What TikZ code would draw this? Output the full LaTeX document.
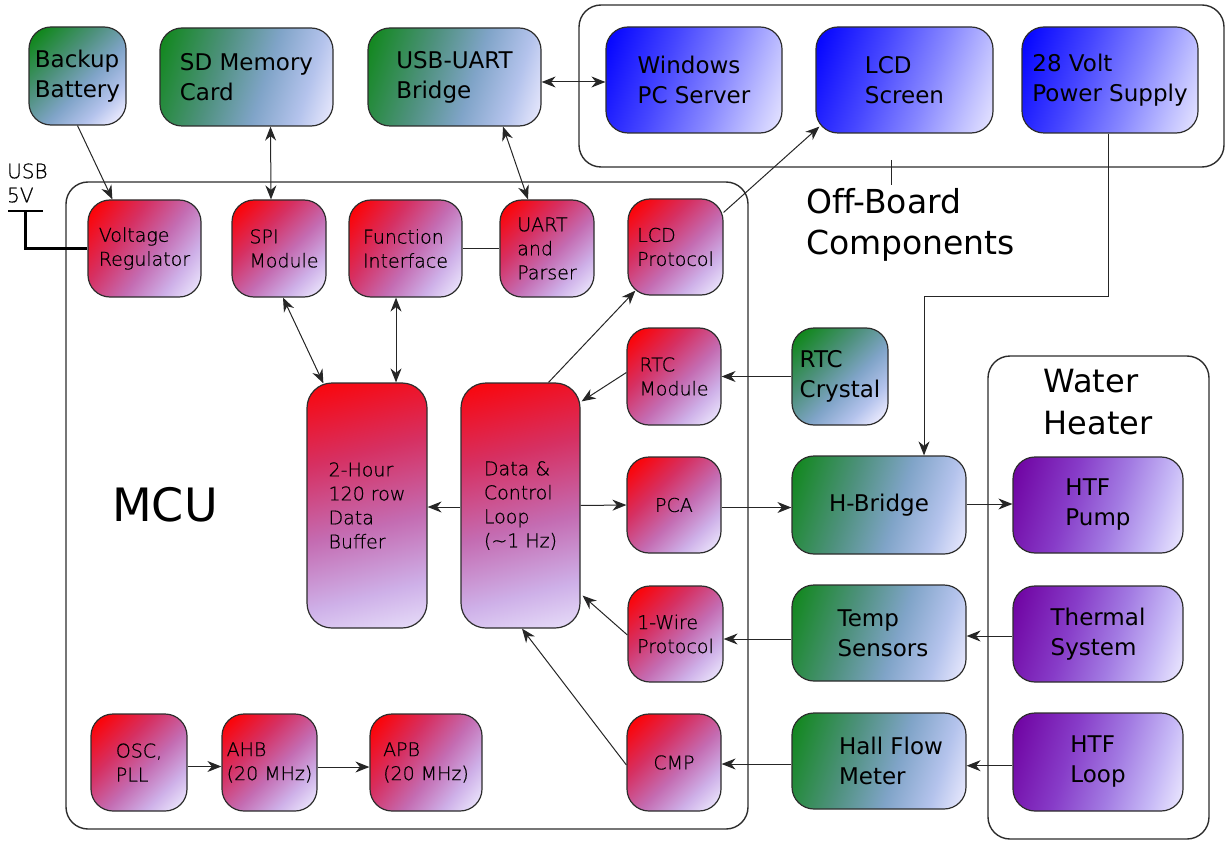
\documentclass[tikz,border=0pt]{standalone}
\usepackage{fontspec}
\setmainfont{DejaVu Sans}[Ligatures=NoCommon]
\newfontfamily\thinfont{DejaVu Sans ExtraLight}[FakeBold=0.6]
\usetikzlibrary{arrows.meta,calc}

% colour stops of the block fills
\definecolor{lavW}{RGB}{240,238,255}
\definecolor{rA}{RGB}{255,0,0}
\definecolor{rB}{RGB}{214,48,98}
\definecolor{rC}{RGB}{196,108,178}
\definecolor{rD}{RGB}{206,176,232}
\definecolor{gA}{RGB}{15,135,25}
\definecolor{gB}{RGB}{78,145,125}
\definecolor{gC}{RGB}{128,164,200}
\definecolor{gD}{RGB}{180,195,236}
\definecolor{bA}{RGB}{0,0,255}
\definecolor{bB}{RGB}{70,70,255}
\definecolor{bC}{RGB}{135,135,255}
\definecolor{bD}{RGB}{192,192,255}
\definecolor{pA}{RGB}{110,0,160}
\definecolor{pB}{RGB}{135,60,200}
\definecolor{pC}{RGB}{162,122,226}
\definecolor{pD}{RGB}{198,184,246}
\definecolor{edge}{RGB}{45,45,45}

\pgfdeclarehorizontalshading{redgrad}{100bp}{color(0bp)=(rA); color(18bp)=(rA); color(38bp)=(rB); color(55bp)=(rC); color(70bp)=(rD); color(84bp)=(lavW); color(100bp)=(lavW)}
\pgfdeclarehorizontalshading{greengrad}{100bp}{color(0bp)=(gA); color(19bp)=(gA); color(40bp)=(gB); color(56bp)=(gC); color(70bp)=(gD); color(82bp)=(lavW); color(100bp)=(lavW)}
\pgfdeclarehorizontalshading{bluegrad}{100bp}{color(0bp)=(bA); color(18bp)=(bA); color(40bp)=(bB); color(58bp)=(bC); color(72bp)=(bD); color(84bp)=(lavW); color(100bp)=(lavW)}
\pgfdeclarehorizontalshading{purplegrad}{100bp}{color(0bp)=(pA); color(19bp)=(pA); color(40bp)=(pB); color(56bp)=(pC); color(70bp)=(pD); color(82bp)=(lavW); color(100bp)=(lavW)}

\tikzset{
  block/.style={draw=edge, line width=1.2pt, rounded corners=22pt, align=left,
    inner sep=0pt, text=black, shade},
  redbox/.style={block, shading=redgrad, shading angle=-45,
    font=\thinfont\fontsize{19}{24}\selectfont},
  greenbox/.style={block, shading=greengrad, shading angle=-18,
    font=\fontsize{23}{30}\selectfont},
  bluebox/.style={block, shading=bluegrad, shading angle=-20,
    font=\fontsize{23}{30}\selectfont},
  purplebox/.style={block, shading=purplegrad, shading angle=-17,
    font=\fontsize{23}{30}\selectfont},
  group/.style={draw=edge, line width=1.4pt, rounded corners=22pt, inner sep=0pt},
  link/.style={draw=black!85, line width=1pt},
  arr/.style={link, -{Stealth[length=14pt,width=11pt,inset=4.5pt]}},
  darr/.style={link, {Stealth[length=14pt,width=11pt,inset=4.5pt]}-{Stealth[length=14pt,width=11pt,inset=4.5pt]}},
  rail/.style={draw=black, line width=2.6pt},
}

\begin{document}
\begin{tikzpicture}[x=1pt, y={(0pt,-1pt)}]
\useasboundingbox (0,0) rectangle (1225,842);

% enclosing groups
\node[group, minimum width=645, minimum height=162] (offbox) at (901.5,86) {};
\node[group, minimum width=682, minimum height=647] (mcubox) at (407,505.5) {};
\node[group, minimum width=221, minimum height=483] (whbox) at (1098.5,597.5) {};

% group labels
\node[font=\fontsize{33}{41}\selectfont, align=left, anchor=west, inner sep=0pt] (offlbl) at (806,225) {Of\kern0pt f-Board\\Components};
\node[font=\fontsize{46}{50}\selectfont, inner sep=0pt] (mculbl) at (165,505) {MCU};
\node[font=\fontsize{32}{42}\selectfont, align=left, inner sep=0pt] (whlbl) at (1098,402) {Water\\Heater};
\node[font=\thinfont\fontsize{20}{24}\selectfont, align=left, anchor=west, inner sep=0pt] (usblbl) at (7,183) {USB\\5V};

% off-board components
\node[bluebox, minimum width=176, minimum height=106] (win) at (694,80) {Windows\\PC Server};
\node[bluebox, minimum width=177, minimum height=106] (lcd) at (904.5,80) {LCD\\Screen};
\node[bluebox, minimum width=176, minimum height=106] (psu) at (1110,80) {28 Volt\\Power Supply};

% on-board peripherals
\node[greenbox, shading angle=-45, minimum width=97, minimum height=98] (bat) at (77.5,76) {Backup\\Battery};
\node[greenbox, minimum width=173, minimum height=98] (sd) at (246.5,77) {SD Memory\\Card};
\node[greenbox, minimum width=173, minimum height=98] (usb) at (454.5,77) {USB-UART\\Bridge};
\node[greenbox, shading angle=-45, minimum width=96, minimum height=97] (rtcx) at (840,376.5) {RTC\\Crystal};
\node[greenbox, minimum width=174, minimum height=98] (hb) at (879,505) {H-Bridge};
\node[greenbox, minimum width=174, minimum height=96] (temp) at (879,633) {\hspace*{8pt}Temp\\\hspace*{8pt}Sensors};
\node[greenbox, minimum width=174, minimum height=96] (hall) at (879,761) {\hspace*{24pt}Hall Flow\\\hspace*{24pt}Meter};

% water heater parts
\node[purplebox, minimum width=170, minimum height=96] (pump) at (1098,505) {HTF\\Pump};
\node[purplebox, minimum width=170, minimum height=96] (therm) at (1098,634) {Thermal\\System};
\node[purplebox, minimum width=170, minimum height=98] (htfl) at (1098,762) {HTF\\Loop};

% MCU internals
\node[redbox, shading angle=-36, minimum width=113, minimum height=97] (vr) at (144.5,248.5) {Voltage\\Regulator};
\node[redbox, minimum width=94, minimum height=97] (spi) at (279,248.5) {\hspace*{10pt}SPI\\\hspace*{10pt}Module};
\node[redbox, shading angle=-36, minimum width=113, minimum height=97] (fi) at (405.5,248.5) {Function\\Interface};
\node[redbox, minimum width=94, minimum height=97] (uart) at (547,248.5) {UART\\and\\Parser};
\node[redbox, minimum width=95, minimum height=96] (lcdp) at (675.5,247) {LCD\\Protocol};
\node[redbox, minimum width=94, minimum height=97] (rtcm) at (674,376.5) {RTC\\Module};
\node[redbox, minimum width=94, minimum height=96] (pca) at (674,505) {PCA};
\node[redbox, minimum width=95, minimum height=96] (ow) at (675.5,634) {1-Wire\\Protocol};
\node[redbox, minimum width=94, minimum height=97] (cmp) at (674,762.5) {CMP};
\node[redbox, rounded corners=25pt, shading angle=-76, minimum width=120, minimum height=245] (buf) at (367,505.5) {2-Hour\\120 row\\Data\\Buffer};
\node[redbox, rounded corners=25pt, shading angle=-76, minimum width=119, minimum height=245] (loop) at (520.5,505.5) {Data \&\\Control\\Loop\\(\textasciitilde1 Hz)};
\node[redbox, minimum width=96, minimum height=97] (osc) at (139,762.5) {OSC,\\PLL};
\node[redbox, minimum width=95, minimum height=97] (ahb) at (269.5,762.5) {AHB\\(20 MHz)};
\node[redbox, shading angle=-37, minimum width=112, minimum height=97] (apb) at (426,762.5) {APB\\(20 MHz)};

% USB supply rail
\coordinate (usbT) at (25.5,211);
\coordinate (usbL) at (8,211);
\coordinate (usbR) at (43,211);
\draw[rail] (usbL) -- (usbR);
\draw[rail] (usbT) |- (vr.west);

% leader from the off-board group to its label
\coordinate (tickA) at (891,160);
\coordinate (tickB) at (891,185);
\draw[link] (tickA) -- (tickB);

% connections
\draw[arr] (bat.south) -- ($(vr.north west)+(25,0)$);
\draw[darr] ($(sd.south)+(24,0)$) -- ($(spi.north)+(-8,0)$);
\draw[darr] ($(usb.south)+(48.5,0)$) -- ($(uart.north)+(-19,0)$);
\draw[darr] ($(usb.east)+(0,5)$) -- ($(win.west)+(0,2)$);
\draw[link] (fi.east) -- (uart.west);
\draw[arr] ($(lcdp.north east)+(0,14)$) -- ($(lcd.south west)+(4,-7)$);
\draw[arr] ($(psu.south)+(-2,0)$) -- ++(0,163) -| ($(hb.north)+(45,0)$);
\draw[darr] ($(spi.south)+(4,0)$) -- ($(buf.north west)+(17,1)$);
\draw[darr] ($(fi.south)+(-9.5,0)$) -- ($(buf.north)+(29,0)$);
\draw[arr] ($(loop.north)+(28,0)$) -- ($(lcdp.south west)+(8,-5)$);
\draw[arr] ($(rtcm.west)+(0,-4)$) -- ($(loop.north east)+(1,19)$);
\draw[arr] (rtcx.west) -- (rtcm.east);
\draw[arr] ($(loop.west)+(0,1.5)$) -- ($(buf.east)+(0,1.5)$);
\draw[arr] (loop.east) -- (pca.west);
\draw[arr] ($(pca.east)+(0,2.5)$) -- ($(hb.west)+(0,2.5)$);
\draw[arr] ($(hb.east)+(0,-1)$) -- ($(pump.west)+(0,-1)$);
\draw[arr] ($(ow.west)+(0,1)$) -- ($(loop.south east)+(2,-33)$);
\draw[arr] ($(temp.west)+(0,6)$) -- ($(ow.east)+(0,5)$);
\draw[arr] ($(therm.west)+(0,2)$) -- ($(temp.east)+(0,3)$);
\draw[arr] ($(cmp.west)+(0,2.5)$) -- ($(loop.south)+(1.5,0)$);
\draw[arr] ($(hall.west)+(0,3)$) -- ($(cmp.east)+(0,1.5)$);
\draw[arr] ($(htfl.west)+(0,3.7)$) -- ($(hall.east)+(0,4.7)$);
\draw[arr] ($(osc.east)+(0,4)$) -- ($(ahb.west)+(0,4)$);
\draw[arr] ($(ahb.east)+(0,4.5)$) -- ($(apb.west)+(0,4.5)$);
\end{tikzpicture}
\end{document}
